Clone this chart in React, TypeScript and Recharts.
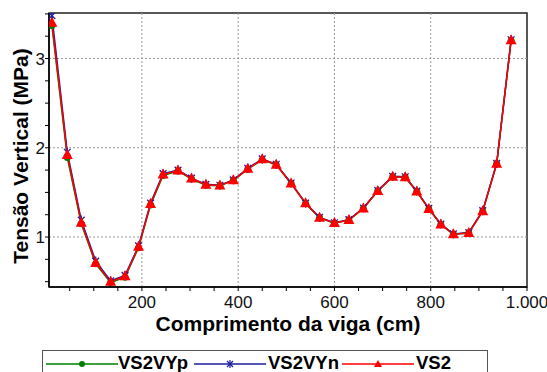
import React from 'react';
import { LineChart, Line, XAxis, YAxis, ReferenceLine, ReferenceArea, Label } from 'recharts';

// Beam positions (cm)
const positions = [13, 45, 74, 104, 135, 165, 193, 218, 244, 275, 303, 333, 362, 390, 420, 450, 479, 510, 540, 569, 600, 630, 660, 690, 721, 747, 771, 796, 821, 847, 879, 908, 937, 967];

// Vertical stress (MPa)
const vs2vyp = [3.37, 1.89, 1.15, 0.70, 0.49, 0.55, 0.88, 1.36, 1.69, 1.74, 1.65, 1.58, 1.575, 1.635, 1.76, 1.865, 1.81, 1.60, 1.375, 1.215, 1.155, 1.19, 1.32, 1.515, 1.675, 1.67, 1.51, 1.315, 1.14, 1.03, 1.045, 1.29, 1.82, 3.20];
const vs2vyn = [3.48, 1.95, 1.19, 0.73, 0.51, 0.57, 0.90, 1.38, 1.71, 1.75, 1.66, 1.59, 1.58, 1.64, 1.77, 1.875, 1.815, 1.605, 1.38, 1.22, 1.16, 1.195, 1.325, 1.52, 1.68, 1.675, 1.515, 1.32, 1.145, 1.035, 1.05, 1.295, 1.825, 3.21];
const vs2 = [3.40, 1.92, 1.16, 0.71, 0.50, 0.56, 0.89, 1.37, 1.70, 1.745, 1.655, 1.585, 1.577, 1.636, 1.764, 1.87, 1.81, 1.60, 1.378, 1.217, 1.157, 1.19, 1.32, 1.517, 1.676, 1.67, 1.51, 1.315, 1.14, 1.03, 1.045, 1.29, 1.82, 3.205];

const xTicks = [50, 100, 150, 200, 250, 300, 350, 400, 450, 500, 550, 600, 650, 700, 750, 800, 850, 900, 950, 1000];
const xMajor = [200, 400, 600, 800, 1000];
const xLabels = ['200', '400', '600', '800', '1.000'];
const yTicks = [0.5, 0.75, 1, 1.25, 1.5, 1.75, 2, 2.25, 2.5, 2.75, 3, 3.25, 3.5];
const yMajor = [1, 2, 3];
const yLabels = ['1', '2', '3'];

const xDomain: [number, number] = [7, 1000];
const yDomain: [number, number] = [0.44, 3.51];

const data = positions.map((x, i) => ({ x, vs2vyp: vs2vyp[i], vs2vyn: vs2vyn[i], vs2: vs2[i] }));

const FONT = '"Liberation Sans", Arial, sans-serif';
const GREEN = '#008000';
const BLUE = '#1c1c9c';
const RED = '#ff0000';

const CircleDot = (p: any) => {
  if (p.cx == null || p.cy == null) return <g key={p.key} />;
  return <circle key={p.key} cx={p.cx} cy={p.cy} r={3.5} fill={GREEN} />;
};

const StarDot = (p: any) => {
  if (p.cx == null || p.cy == null) return <g key={p.key} />;
  const { cx, cy } = p;
  const r = 4.5;
  const d = r * 0.75;
  return (
    <g key={p.key} stroke={BLUE} strokeWidth={1.3}>
      <line x1={cx} y1={cy - r} x2={cx} y2={cy + r} />
      <line x1={cx - d} y1={cy - d} x2={cx + d} y2={cy + d} />
      <line x1={cx - d} y1={cy + d} x2={cx + d} y2={cy - d} />
    </g>
  );
};

const TriDot = (p: any) => {
  if (p.cx == null || p.cy == null) return <g key={p.key} />;
  const { cx, cy } = p;
  return <polygon key={p.key} points={`${cx},${cy - 6} ${cx - 5.5},${cy + 4} ${cx + 5.5},${cy + 4}`} fill={RED} />;
};

const XTick = (p: any) => {
  const { x, y, payload } = p;
  const v = payload.value;
  const idx = xMajor.indexOf(v);
  return (
    <g>
      <line x1={x} y1={y} x2={x} y2={y + 4} stroke="#000" strokeWidth={1} />
      {idx >= 0 && (
        <text x={x} y={y + 21} textAnchor="middle" fontSize={17} fontFamily={FONT} fill="#111">
          {xLabels[idx]}
        </text>
      )}
    </g>
  );
};

const YTick = (p: any) => {
  const { x, y, payload } = p;
  const v = payload.value;
  const idx = yMajor.indexOf(v);
  return (
    <g>
      <line x1={x - 4} y1={y} x2={x} y2={y} stroke="#000" strokeWidth={1} />
      {idx >= 0 && (
        <text x={x - 4} y={y} dy="0.36em" textAnchor="end" fontSize={17} fontFamily={FONT} fill="#111">
          {yLabels[idx]}
        </text>
      )}
    </g>
  );
};

const XTitle = (p: any) => {
  const vb = p.viewBox || {};
  const cx = vb.x + vb.width / 2;
  const y = vb.y + 44;
  return (
    <text x={cx} y={y} textAnchor="middle" fontSize={21} fontWeight="bold" fontFamily={FONT} fill="#000">
      Comprimento da viga (cm)
    </text>
  );
};

const YTitle = (p: any) => {
  const vb = p.viewBox || {};
  const cx = vb.x + 20;
  const cy = vb.y + vb.height / 2 + 6;
  return (
    <text x={cx} y={cy} transform={`rotate(-90 ${cx} ${cy})`} dy="0.36em" textAnchor="middle" fontSize={21} fontWeight="bold" fontFamily={FONT} fill="#000">
      Tensão Vertical (MPa)
    </text>
  );
};

const series = [
  { key: 'vs2vyp', name: 'VS2VYp', color: GREEN, dot: CircleDot },
  { key: 'vs2vyn', name: 'VS2VYn', color: BLUE, dot: StarDot },
  { key: 'vs2', name: 'VS2', color: RED, dot: TriDot },
];

const legendLineLeft = [3, 151, 299];
const legendTextLeft = [75, 225, 373];

const LegendMarker = ({ kind, color }: { kind: string; color: string }) => {
  if (kind === 'vs2vyp') return <circle cx={36} cy={7} r={3} fill={color} />;
  if (kind === 'vs2vyn')
    return (
      <g stroke={color} strokeWidth={1.2}>
        <line x1={36} y1={3} x2={36} y2={11} />
        <line x1={33} y1={4} x2={39} y2={10} />
        <line x1={33} y1={10} x2={39} y2={4} />
      </g>
    );
  return <polygon points="36,3 32,10 40,10" fill={color} />;
};

export default function App() {
  return (
    <div style={{ position: 'absolute', left: 0, top: 0, width: 547, height: 372, overflow: 'hidden', background: '#fff' }}>
      <LineChart width={547} height={372} data={data} margin={{ top: 13, right: 20, bottom: 0, left: 0 }}>
        <ReferenceArea x1={xDomain[0]} x2={xDomain[1]} y1={yDomain[0]} y2={yDomain[1]} fill="none" stroke="#222" strokeWidth={1.5} ifOverflow="visible" />
        {xMajor.slice(0, 4).map((v) => (
          <ReferenceLine key={'gx' + v} x={v} stroke="#999" strokeDasharray="2 2" strokeWidth={1} />
        ))}
        {yMajor.map((v) => (
          <ReferenceLine key={'gy' + v} y={v} stroke="#999" strokeDasharray="2 2" strokeWidth={1} />
        ))}
        <XAxis
          dataKey="x"
          type="number"
          domain={xDomain}
          ticks={xTicks}
          interval={0}
          tickSize={0}
          tickMargin={0}
          tickLine={false}
          tick={<XTick />}
          axisLine={{ stroke: '#000', strokeWidth: 1.5 }}
          height={85}
          allowDataOverflow
        >
          <Label content={<XTitle />} />
        </XAxis>
        <YAxis
          type="number"
          domain={yDomain}
          ticks={yTicks}
          interval={0}
          tickSize={0}
          tickMargin={0}
          tickLine={false}
          tick={<YTick />}
          axisLine={{ stroke: '#000', strokeWidth: 1.5 }}
          width={49}
          allowDataOverflow
        >
          <Label content={<YTitle />} />
        </YAxis>
        {series.map((s) => (
          <Line
            key={s.key}
            dataKey={s.key}
            name={s.name}
            type="linear"
            stroke={s.color}
            strokeWidth={1.5}
            dot={s.dot}
            activeDot={false}
            isAnimationActive={false}
          />
        ))}
      </LineChart>
      <div
        style={{
          position: 'absolute',
          left: 42,
          top: 350,
          width: 446,
          height: 40,
          border: '1px solid #555',
          boxSizing: 'border-box',
          fontFamily: FONT,
        }}
      >
        {series.map((s, i) => (
          <React.Fragment key={s.key}>
            <svg style={{ position: 'absolute', left: legendLineLeft[i], top: 6, overflow: 'visible' }} width={72} height={14}>
              <line x1={0} y1={7} x2={72} y2={7} stroke={s.color} strokeWidth={1.5} />
              <LegendMarker kind={s.key} color={s.color} />
            </svg>
            <span
              style={{
                position: 'absolute',
                left: legendTextLeft[i],
                top: 1,
                fontSize: 18.5,
                fontWeight: 'bold',
                lineHeight: '22px',
                color: '#000',
                whiteSpace: 'nowrap',
              }}
            >
              {s.name}
            </span>
          </React.Fragment>
        ))}
      </div>
    </div>
  );
}
